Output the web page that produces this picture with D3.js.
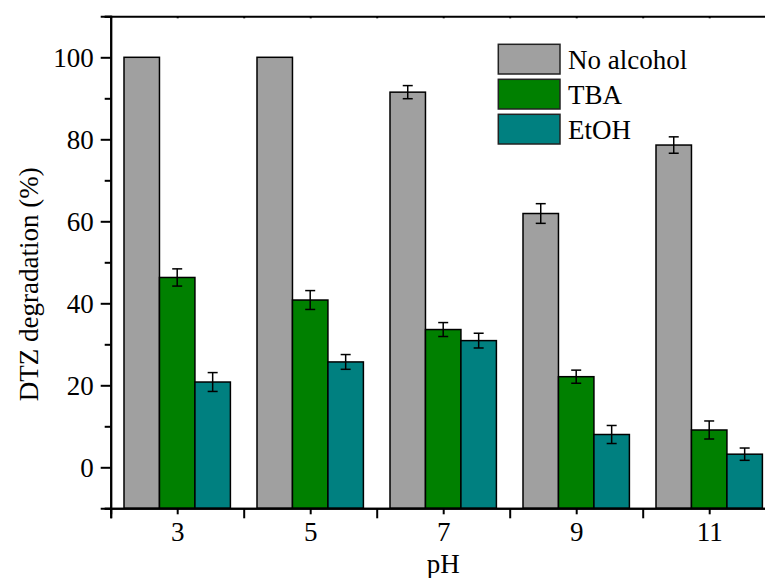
<!DOCTYPE html>
<html>
<head>
<meta charset="utf-8">
<script src="https://cdn.jsdelivr.net/npm/d3@7.9.0/dist/d3.min.js"></script>
<style>
  body { margin: 0; background: #fff; }
  svg text { font-family: "Liberation Serif", "Times New Roman", Times, "DejaVu Serif", serif; fill: #000; }
</style>
</head>
<body>
<svg width="765" height="578"></svg>
<script>
const phValues = [3, 5, 7, 9, 11];
const seriesNames = ['No alcohol', 'TBA', 'EtOH'];
const seriesColors = ['#a0a0a0', '#008000', '#008080'];
const noAlcohol = [100, 100, 91.5, 61.9, 78.6];
const noAlcoholErr = [0, 0, 1.6, 2.4, 2.0];
const tba = [46.3, 40.8, 33.6, 22.1, 9.1];
const tbaErr = [2.1, 2.3, 1.7, 1.6, 2.2];
const etoh = [20.8, 25.7, 30.9, 8.0, 3.2];
const etohErr = [2.3, 1.8, 1.8, 2.2, 1.5];
const yTicks = [0, 20, 40, 60, 80, 100];

const series = [
  { name: seriesNames[0], values: noAlcohol, errs: noAlcoholErr },
  { name: seriesNames[1], values: tba, errs: tbaErr },
  { name: seriesNames[2], values: etoh, errs: etohErr }
];

const svg = d3.select('svg');
const x = d3.scaleLinear().domain([2, 12]).range([110.7, 775.7]);
const y = d3.scaleLinear().domain([-10, 110]).range([508.3, 16.3]);
const barW = 0.5333; // in pH units

// bars
series.forEach((s, si) => {
  let g = svg.append('g');
  s.values.forEach((v, i) => {
    let x0 = x(phValues[i] + (si - 1.5) * barW);
    let x1 = x(phValues[i] + (si - 0.5) * barW);
    g.append('rect')
      .attr('x', x0).attr('y', y(v))
      .attr('width', x1 - x0).attr('height', y(-10) - y(v))
      .attr('fill', seriesColors[si])
      .attr('stroke', '#000').attr('stroke-width', 1.5);
  });
  // error bars
  s.values.forEach((v, i) => {
    let e = s.errs[i];
    if (!e) return;
    let cx = x(phValues[i] + (si - 1) * barW);
    let eg = g.append('g').attr('stroke', '#000').attr('stroke-width', 1.5);
    eg.append('line').attr('x1', cx).attr('x2', cx).attr('y1', y(v + e)).attr('y2', y(v - e));
    eg.append('line').attr('x1', cx - 5).attr('x2', cx + 5).attr('y1', y(v + e)).attr('y2', y(v + e));
    eg.append('line').attr('x1', cx - 5).attr('x2', cx + 5).attr('y1', y(v - e)).attr('y2', y(v - e));
  });
});

// axes
const fontSize = 27;
let yAxis = svg.append('g').attr('transform', `translate(${x(2)},0)`)
  .call(d3.axisLeft(y).tickValues(yTicks).tickSize(10).tickPadding(7).tickFormat(d3.format('d')));
let yMinor = svg.append('g').attr('transform', `translate(${x(2)},0)`)
  .call(d3.axisLeft(y).tickValues([-10, 10, 30, 50, 70, 90, 110]).tickSize(6).tickFormat(''));

let xAxis = svg.append('g').attr('transform', `translate(0,${y(-10)})`)
  .call(d3.axisBottom(x).tickValues(phValues).tickSize(6).tickPadding(8).tickFormat(d3.format('d')));
let xMinor = svg.append('g').attr('transform', `translate(0,${y(-10)})`)
  .call(d3.axisBottom(x).tickValues([2, 4, 6, 8, 10, 12]).tickSize(10).tickFormat(''));
let xTop = svg.append('g').attr('transform', `translate(0,${y(110)})`)
  .call(d3.axisBottom(x).tickValues([3, 4, 5, 6, 7, 8, 9, 10, 11]).tickSize(2).tickFormat(''));
let yRight = svg.append('g').attr('transform', `translate(${x(12)},0)`)
  .call(d3.axisRight(y).tickValues([]).tickSize(0));

[yAxis, yMinor, xAxis, xMinor, xTop, yRight].forEach(a => {
  a.attr('font-family', null);
  a.selectAll('.domain').attr('stroke', '#000').attr('stroke-width', 2);
  a.selectAll('.tick line').attr('stroke', '#000').attr('stroke-width', 2);
  a.selectAll('.tick text').attr('font-size', fontSize);
});
yAxis.selectAll('.tick text').attr('dy', '0.34em');
xAxis.selectAll('.tick text').attr('dy', '0.7em');

// axis titles
svg.append('text')
  .attr('transform', `translate(38,${(y(-10) + y(110)) / 2 + 22}) rotate(-90)`)
  .attr('text-anchor', 'middle')
  .attr('font-size', fontSize)
  .text('DTZ degradation (%)');

svg.append('text')
  .attr('x', x(7)).attr('y', 573)
  .attr('text-anchor', 'middle')
  .attr('font-size', fontSize)
  .text('pH');

// legend
let legend = svg.append('g');
seriesNames.forEach((name, i) => {
  let ly = 44.3 + i * 35;
  legend.append('rect')
    .attr('x', 498.3).attr('y', ly).attr('width', 61.7).attr('height', 29.7)
    .attr('fill', seriesColors[i]).attr('stroke', '#222').attr('stroke-width', 1.5);
  legend.append('text')
    .attr('x', 568).attr('y', ly + 25)
    .attr('font-size', fontSize)
    .text(name);
});
</script>
</body>
</html>
